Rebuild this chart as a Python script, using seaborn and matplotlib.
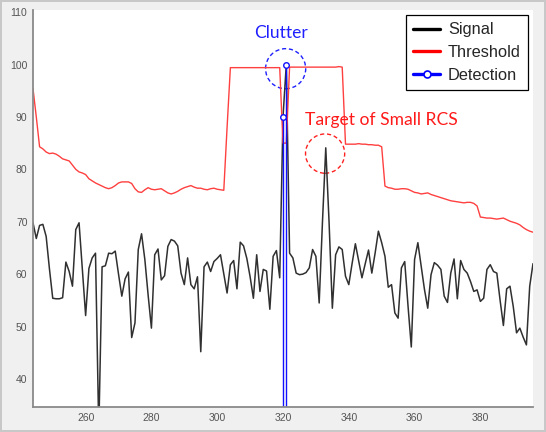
import numpy as np
import seaborn as sns
import matplotlib.pyplot as plt
from matplotlib.patches import Ellipse
from matplotlib.lines import Line2D
from matplotlib.legend_handler import HandlerLine2D

sns.set_style("white")
plt.rcParams["font.family"] = ["Liberation Sans", "DejaVu Sans"]

x = np.arange(244, 397)
signal = [
    69.8, 66.8, 69.3, 69.5, 67.2, 61.0, 55.4, 55.3, 55.3, 55.5,  # 244-253
    62.3, 60.5, 57.7, 68.5, 69.8, 61.0, 52.1, 61.1, 63.1, 64.0,  # 254-263
    30.0, 61.4, 61.6, 64.0, 63.9, 64.4, 60.0, 55.8, 59.1, 60.4,  # 264-273
    47.9, 50.7, 64.7, 67.7, 62.8, 56.0, 49.7, 63.7, 64.8, 58.9,  # 274-283
    59.7, 65.3, 66.6, 66.3, 65.4, 60.2, 58.0, 63.1, 58.0, 57.2,  # 284-293
    59.5, 45.2, 61.4, 62.3, 60.5, 62.4, 63.0, 63.7, 60.0, 56.4,  # 294-303
    61.8, 62.6, 57.2, 66.1, 65.4, 63.0, 59.5, 55.4, 63.7, 56.7,  # 304-313
    60.9, 60.6, 53.3, 63.4, 64.5, 59.3, 90.0, 100.0, 64.0, 63.1,  # 314-323
    60.2, 59.9, 60.0, 60.3, 61.2, 64.7, 63.4, 54.5, 70.0, 84.1,  # 324-333
    70.0, 53.5, 63.7, 65.2, 64.7, 59.6, 58.0, 62.0, 65.8, 62.5,  # 334-343
    59.3, 62.0, 64.6, 60.2, 64.0, 68.2, 66.0, 63.4, 57.5, 58.0,  # 344-353
    52.6, 51.6, 61.2, 62.4, 54.0, 46.1, 62.8, 66.0, 61.6, 57.1,  # 354-363
    53.5, 59.9, 62.2, 61.7, 60.9, 55.8, 54.6, 60.2, 62.9, 55.3,  # 364-373
    62.6, 60.9, 60.2, 58.6, 56.7, 57.0, 54.8, 55.4, 60.9, 61.8,  # 374-383
    60.5, 60.2, 55.0, 50.2, 57.2, 57.7, 53.8, 48.8, 49.7, 48.0,  # 384-393
    46.5, 57.7, 62.0,                                            # 394-396
]
threshold = [
    95.4, 90.0, 84.3, 83.9, 83.3, 83.0, 83.1, 82.9, 82.5, 82.0,  # 244-253
    81.8, 81.6, 80.8, 80.0, 79.5, 79.3, 79.0, 78.2, 77.8, 77.4,  # 254-263
    77.1, 76.8, 76.5, 76.3, 76.5, 76.9, 77.4, 77.6, 77.6, 77.6,  # 264-273
    77.3, 76.3, 75.7, 75.6, 76.1, 76.5, 76.2, 76.1, 76.2, 76.3,  # 274-283
    75.9, 75.5, 75.3, 75.5, 75.8, 76.2, 76.5, 76.7, 76.9, 76.6,  # 284-293
    76.4, 76.4, 76.2, 76.1, 76.3, 76.4, 76.2, 76.1, 76.0, 88.0,  # 294-303
    99.4, 99.4, 99.4, 99.4, 99.4, 99.4, 99.4, 99.4, 99.4, 99.4,  # 304-313
    99.4, 99.4, 99.4, 99.4, 99.4, 99.4, 85.0, 85.0, 99.5, 99.5,  # 314-323
    99.5, 99.5, 99.5, 99.5, 99.5, 99.5, 99.5, 99.5, 99.5, 99.5,  # 324-333
    99.5, 99.5, 99.5, 99.6, 99.5, 84.8, 84.8, 84.8, 84.8, 84.9,  # 334-343
    84.8, 84.8, 84.7, 84.7, 84.6, 84.6, 84.3, 76.8, 76.5, 76.4,  # 344-353
    76.2, 76.2, 76.3, 76.3, 76.2, 75.9, 75.6, 75.5, 75.3, 75.4,  # 354-363
    75.5, 75.2, 75.0, 74.8, 74.6, 74.4, 74.2, 74.0, 73.9, 73.8,  # 364-373
    73.7, 73.6, 73.7, 73.7, 73.5, 73.0, 70.9, 70.8, 70.7, 70.7,  # 374-383
    70.6, 70.5, 70.6, 70.7, 70.4, 70.1, 69.9, 69.7, 69.4, 68.9,  # 384-393
    68.5, 68.2, 68.0,                                            # 394-396
]
det_x = [320, 321]
det_y = [90.0, 100.0]


class StemHandler(HandlerLine2D):
    # marker only at the right end of the legend line, like matlab's stem
    def get_xdata(self, legend, xdescent, ydescent, width, height, fontsize):
        xdata, _ = super().get_xdata(legend, xdescent, ydescent, width, height, fontsize)
        return xdata, [xdata[-1]]


fig = plt.figure(figsize=(5.46, 4.32), dpi=100, facecolor="#f0f0f0")
fig.patch.set_edgecolor("#c8c8c8")
fig.patch.set_linewidth(1.5)
ax = fig.add_axes([33 / 546, 1 - 407 / 432, 500 / 546, 397 / 432])

sns.lineplot(x=x, y=signal, color="#303030", lw=1.1, ax=ax)
sns.lineplot(x=x, y=threshold, color="#ff4040", lw=1.0, ax=ax)
markerline, stemlines, baseline = ax.stem(det_x, det_y, linefmt="-", markerfmt="o",
                                          basefmt=" ", bottom=0)
stemlines.set_color("#1010ff")
stemlines.set_linewidth(1.0)
markerline.set_color("#1010ff")
markerline.set_markerfacecolor("white")
markerline.set_markersize(4)
markerline.set_markeredgewidth(1.0)

ax.add_patch(Ellipse((320.8, 99.2), 12.2, 7.65, fill=False, ec="#2020ff", lw=1.0, ls=(0, (3, 2))))
ax.add_patch(Ellipse((332.8, 83.0), 11.9, 7.5, fill=False, ec="#ff2020", lw=1.0, ls=(0, (3, 2))))
ax.text(319.3, 106.0, "Clutter", color="#2020ff", fontsize=12.6, family=["Lato", "DejaVu Sans"],
        ha="center", va="center")
ax.text(349.9, 89.4, "Target of Small RCS", color="#ff1a1a", fontsize=12.6,
        family=["Lato", "DejaVu Sans"], ha="center", va="center")

ax.set_xlim(244, 396)
ax.set_ylim(34.65, 110.4)
ax.set_xticks(range(260, 381, 20))
ax.set_yticks(range(40, 111, 10))
ax.tick_params(direction="in", length=4, width=1, color="#8a8a8a", labelcolor="#555555",
               labelsize=7.5, pad=4)
for side in ["top", "right"]:
    ax.spines[side].set_visible(False)
for side in ["left", "bottom"]:
    ax.spines[side].set_color("#8a8a8a")
    ax.spines[side].set_linewidth(1.3)

h_sig = Line2D([], [], color="black", lw=2.4)
h_thr = Line2D([], [], color="red", lw=2.4)
h_det = Line2D([], [], color="blue", lw=2.4, marker="o", markersize=5,
               markerfacecolor="white", markeredgecolor="blue", markeredgewidth=1.2)
leg = ax.legend([h_sig, h_thr, h_det], ["Signal", "Threshold", "Detection"],
                handler_map={h_det: StemHandler()}, loc="upper right", fontsize=11.8,
                frameon=True, fancybox=False, framealpha=1, edgecolor="black",
                handlelength=1.6, handletextpad=0.5, labelspacing=0.48,
                borderpad=0.45, borderaxespad=0.3)
leg.get_frame().set_linewidth(0.9)

fig.savefig("out.png", dpi=100, facecolor=fig.get_facecolor(), edgecolor=fig.patch.get_edgecolor())
